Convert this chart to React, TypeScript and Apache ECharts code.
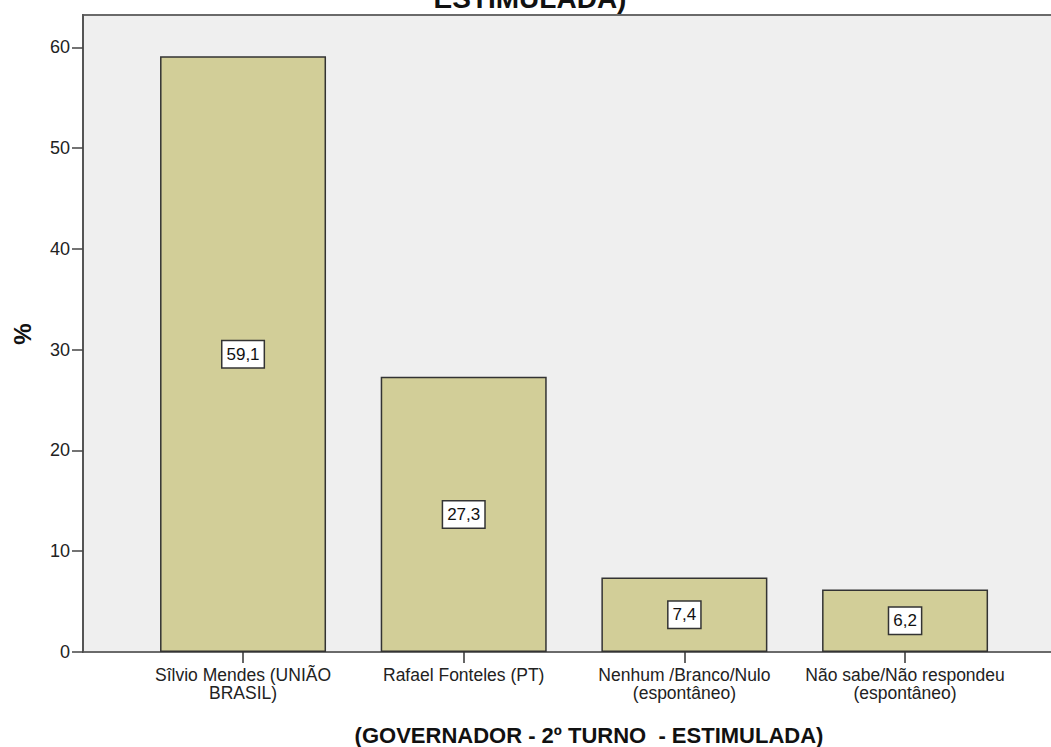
import React, { useEffect, useRef } from "react";
import * as echarts from "echarts";

const categories = [
  "Sîlvio Mendes (UNIÃO\nBRASIL)",
  "Rafael Fonteles (PT)",
  "Nenhum /Branco/Nulo\n(espontâneo)",
  "Não sabe/Não respondeu\n(espontâneo)",
];
const values = [59.1, 27.3, 7.4, 6.2];
const yTicks = [0, 10, 20, 30, 40, 50, 60];
const xTitle = "(GOVERNADOR - 2º TURNO  - ESTIMULADA)";
const topTitleFragment = "ESTIMULADA)";
const yName = "%";

const FONT = "'Liberation Sans', Arial, sans-serif";

export default function App() {
  const ref = useRef<HTMLDivElement>(null);
  useEffect(() => {
    if (!ref.current) return;
    const chart = echarts.init(ref.current, undefined, { renderer: "svg" });
    const yMax = 63.2;
    chart.setOption({
      animation: false,
      backgroundColor: "#ffffff",
      textStyle: { fontFamily: FONT },
      grid: [
        {
          left: 83,
          top: 15,
          right: -20,
          bottom: 95,
          show: true,
          backgroundColor: "#EFEFEF",
          borderColor: "#6a6a6a",
          borderWidth: 2,
          containLabel: false,
          outerBoundsMode: "none",
        },
        {
          left: 132.7,
          width: 882.7,
          top: 15,
          bottom: 95,
          containLabel: false,
          outerBoundsMode: "none",
        },
      ],
      xAxis: [
        { gridIndex: 0, type: "value", min: 0, max: 1, show: false },
        {
          gridIndex: 1,
          type: "category",
          data: categories,
          boundaryGap: true,
          axisLine: { show: false },
          axisTick: {
            show: true,
            alignWithLabel: true,
            length: 11,
            lineStyle: { color: "#333", width: 1.5 },
          },
          axisLabel: {
            fontSize: 17.5,
            color: "#222",
            margin: 14,
            lineHeight: 18,
            interval: 0,
            fontFamily: FONT,
          },
        },
      ],
      yAxis: [
        {
          gridIndex: 0,
          type: "value",
          min: 0,
          max: yMax,
          interval: 10,
          axisLine: { show: true, lineStyle: { color: "#555", width: 2 } },
          axisTick: {
            show: true,
            length: 11,
            lineStyle: { color: "#444", width: 1.5 },
            customValues: yTicks,
          },
          axisLabel: {
            fontSize: 18,
            color: "#222",
            margin: 13,
            customValues: yTicks,
            fontFamily: FONT,
          },
          splitLine: { show: false },
        },
        { gridIndex: 1, type: "value", min: 0, max: yMax, show: false },
      ],
      series: [
        {
          type: "bar",
          xAxisIndex: 1,
          yAxisIndex: 1,
          data: values,
          barWidth: 166,
          itemStyle: {
            color: "#D2CE98",
            borderColor: "#333333",
            borderWidth: 1.5,
          },
          label: {
            show: true,
            position: "inside",
            formatter: (p: any) => String(p.value).replace(".", ","),
            backgroundColor: "#ffffff",
            borderColor: "#333",
            borderWidth: 1.5,
            padding: [6, 4, 3, 4],
            fontSize: 17,
            color: "#111",
            fontFamily: FONT,
          },
        },
      ],
      graphic: [
        {
          type: "text",
          x: 530,
          y: 12,
          style: {
            text: topTitleFragment,
            textAlign: "center",
            textVerticalAlign: "bottom",
            font: `bold 28px ${FONT}`,
            fill: "#111",
          },
        },
        {
          type: "text",
          x: 589,
          y: 735,
          style: {
            text: xTitle,
            textAlign: "center",
            textVerticalAlign: "middle",
            font: `bold 22px ${FONT}`,
            fill: "#111",
          },
        },
        {
          type: "text",
          x: 22,
          y: 334,
          rotation: Math.PI / 2,
          style: {
            text: yName,
            textAlign: "center",
            textVerticalAlign: "middle",
            font: `bold 24px ${FONT}`,
            fill: "#111",
          },
        },
      ],
    });
    return () => chart.dispose();
  }, []);
  return (
    <div
      ref={ref}
      style={{ position: "absolute", left: 0, top: 0, width: 1051, height: 747 }}
    />
  );
}
